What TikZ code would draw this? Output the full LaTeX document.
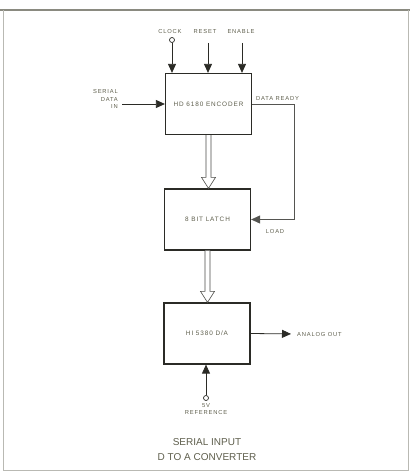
\documentclass[tikz,border=0pt]{standalone}
\usepackage{fontspec}
\setmainfont{Liberation Sans}
\newfontfamily\lblfont[LetterSpace=14]{Liberation Sans}
\usetikzlibrary{arrows.meta,positioning,calc}
\definecolor{cLine}{HTML}{2B2B26}
\definecolor{cText}{HTML}{5E5E4C}
\definecolor{cFrame}{HTML}{8A8A80}
\tikzset{
  blk/.style={draw=cLine, line width=1.2pt, fill=white, minimum width=86pt,
              minimum height=61pt, inner sep=0pt, text=cText,
              font=\lblfont\fontsize{6.4}{7}\selectfont},
  lbl/.style={font=\lblfont\fontsize{5.8}{7.5}\selectfont, text=cText, inner sep=0pt},
  arr/.style={-{Triangle[length=9pt,width=8pt]}, line width=0.8pt, cLine},
  fbarr/.style={arr, line width=0.7pt, cLine!80},
  busarr/.style={draw=cLine!85, line width=0.6pt, fill=white, line join=miter},
  pinnode/.style={circle, draw=cLine, line width=0.7pt, minimum size=5pt, inner sep=0pt},
  ttl/.style={font=\fontsize{10}{15}\selectfont, text=cText, align=center}
}
% hollow bus arrow between two points
\newcommand{\busarrow}[2]{%
  \draw[busarr] ($(#1)+(-2.5,0)$) -- ($(#2)+(-2.5,-11)$) -- ($(#2)+(-7,-11)$)
    -- (#2) -- ($(#2)+(7,-11)$) -- ($(#2)+(2.5,-11)$) -- ($(#1)+(2.5,0)$);}
\begin{document}
\begin{tikzpicture}[x=1pt, y=-1pt]
% page and frame
\useasboundingbox (0,0) rectangle (410,473);
\draw[cFrame, line width=1.6pt] (0,10) -- (410,10);
\draw[cFrame!60, line width=0.5pt] (3,10) -- (3,470) -- (408,470) -- (408,10);
% blocks
\node[blk] (enc) at (208.5,104) {HD 6180 ENCODER};
\node[blk] (latch) at (207.5,219.5) {8 BIT LATCH};
\node[blk] (dac) at (207,333.5) {HI 5380 D/A};
% control inputs
\node[lbl] (clk) at (170,32) {CLOCK};
\node[pinnode] (clkpin) at (172,40) {};
\node[lbl] (rst) at (205,32) {RESET};
\node[lbl] (ena) at (241,32) {ENABLE};
\coordinate (rstin) at (208,43);
\coordinate (enain) at (242,43);
\draw[arr] (clkpin) -- (clkpin |- enc.north);
\draw[arr] (rstin) -- (rstin |- enc.north);
\draw[arr] (enain) -- (enain |- enc.north);
% serial data in
\node[lbl, align=right, anchor=east] (sdi) at (118,99) {SERIAL\\DATA\\IN};
\coordinate (sdiend) at (122,104);
\draw[arr] (sdiend) -- (enc.west);
% data ready -> load
\node[lbl, anchor=south west] (drdy) at (256,101) {DATA READY};
\coordinate (drcorner) at (294,104);
\draw[fbarr] (enc.east) -- (drcorner) |- (latch.east);
\node[lbl] (load) at (275,232) {LOAD};
% parallel data
\coordinate (b1) at (enc.south |- latch.north);
\coordinate (b2) at (latch.south |- dac.north);
\busarrow{enc.south}{b1}
\busarrow{latch.south}{b2}
% analog out
\node[lbl, anchor=west] (aout) at (297,334) {ANALOG OUT};
\draw[arr, shorten >=6pt] (dac.east) -- (aout.west);
% reference
\node[pinnode] (refpin) at (206,398) {};
\node[lbl, align=center, below=2pt of refpin] (reflbl) {5V\\REFERENCE};
\draw[arr] (refpin) -- (refpin |- dac.south);
% title
\node[ttl] (title) at (207,450) {SERIAL INPUT\\D TO A CONVERTER};
\end{tikzpicture}
\end{document}
